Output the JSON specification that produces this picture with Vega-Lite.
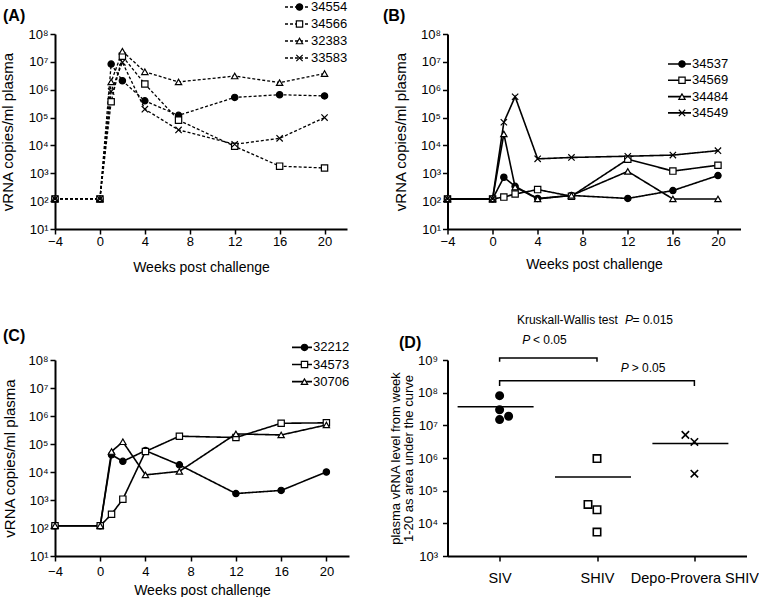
{
  "$schema": "https://vega.github.io/schema/vega-lite/v6.json",
  "padding": {"left": 0, "top": 0, "right": 0, "bottom": 0},
  "background": "white",
  "config": {
    "font": "Liberation Sans",
    "view": {"stroke": null},
    "axis": {"domainColor": "black", "domainWidth": 2, "tickColor": "black", "tickWidth": 1.5, "tickSize": 5, "labelColor": "black", "titleColor": "black", "labelFontSize": 13, "titleFontWeight": "normal", "grid": false, "labelFlush": false, "labelFont": "Liberation Sans", "titleFont": "Liberation Sans", "labelOverlap": false}
  },
  "resolve": {
    "scale": {"shape": "independent", "fill": "independent", "strokeDash": "independent", "xOffset": "independent"},
    "legend": {"shape": "independent", "fill": "independent", "strokeDash": "independent"}
  },
  "datasets": {
    "A": [
      {"id": "34554", "week": -4, "v": 120}, {"id": "34554", "week": 0, "v": 120}, {"id": "34554", "week": 1, "v": 8300000}, {"id": "34554", "week": 2, "v": 2100000}, {"id": "34554", "week": 4, "v": 400000}, {"id": "34554", "week": 7, "v": 120000}, {"id": "34554", "week": 12, "v": 530000}, {"id": "34554", "week": 16, "v": 660000}, {"id": "34554", "week": 20, "v": 600000},
      {"id": "34566", "week": -4, "v": 120}, {"id": "34566", "week": 0, "v": 120}, {"id": "34566", "week": 1, "v": 370000}, {"id": "34566", "week": 2, "v": 16000000}, {"id": "34566", "week": 4, "v": 1600000}, {"id": "34566", "week": 7, "v": 81000}, {"id": "34566", "week": 12, "v": 9300}, {"id": "34566", "week": 16, "v": 1800}, {"id": "34566", "week": 20, "v": 1550},
      {"id": "32383", "week": -4, "v": 120}, {"id": "32383", "week": 0, "v": 120}, {"id": "32383", "week": 1, "v": 1900000}, {"id": "32383", "week": 2, "v": 24000000}, {"id": "32383", "week": 4, "v": 4400000}, {"id": "32383", "week": 7, "v": 1900000}, {"id": "32383", "week": 12, "v": 3100000}, {"id": "32383", "week": 16, "v": 1800000}, {"id": "32383", "week": 20, "v": 3800000},
      {"id": "33583", "week": -4, "v": 120}, {"id": "33583", "week": 0, "v": 120}, {"id": "33583", "week": 1, "v": 870000}, {"id": "33583", "week": 2, "v": 9600000}, {"id": "33583", "week": 4, "v": 200000}, {"id": "33583", "week": 7, "v": 36000}, {"id": "33583", "week": 12, "v": 11000}, {"id": "33583", "week": 16, "v": 18000}, {"id": "33583", "week": 20, "v": 100000}
    ],
    "B": [
      {"id": "34537", "week": -4, "v": 120}, {"id": "34537", "week": 0, "v": 120}, {"id": "34537", "week": 1, "v": 720}, {"id": "34537", "week": 2, "v": 340}, {"id": "34537", "week": 4, "v": 125}, {"id": "34537", "week": 7, "v": 160}, {"id": "34537", "week": 12, "v": 125}, {"id": "34537", "week": 16, "v": 240}, {"id": "34537", "week": 20, "v": 830},
      {"id": "34569", "week": -4, "v": 120}, {"id": "34569", "week": 0, "v": 120}, {"id": "34569", "week": 1, "v": 140}, {"id": "34569", "week": 2, "v": 180}, {"id": "34569", "week": 4, "v": 260}, {"id": "34569", "week": 7, "v": 150}, {"id": "34569", "week": 12, "v": 3200}, {"id": "34569", "week": 16, "v": 1200}, {"id": "34569", "week": 20, "v": 1950},
      {"id": "34484", "week": -4, "v": 120}, {"id": "34484", "week": 0, "v": 120}, {"id": "34484", "week": 1, "v": 26000}, {"id": "34484", "week": 2, "v": 320}, {"id": "34484", "week": 4, "v": 120}, {"id": "34484", "week": 7, "v": 160}, {"id": "34484", "week": 12, "v": 1170}, {"id": "34484", "week": 16, "v": 120}, {"id": "34484", "week": 20, "v": 120},
      {"id": "34549", "week": -4, "v": 120}, {"id": "34549", "week": 0, "v": 120}, {"id": "34549", "week": 1, "v": 68000}, {"id": "34549", "week": 2, "v": 560000}, {"id": "34549", "week": 4, "v": 3300}, {"id": "34549", "week": 7, "v": 3700}, {"id": "34549", "week": 12, "v": 4100}, {"id": "34549", "week": 16, "v": 4500}, {"id": "34549", "week": 20, "v": 6500}
    ],
    "C": [
      {"id": "32212", "week": -4, "v": 120}, {"id": "32212", "week": 0, "v": 120}, {"id": "32212", "week": 1, "v": 41000}, {"id": "32212", "week": 2, "v": 24000}, {"id": "32212", "week": 4, "v": 58000}, {"id": "32212", "week": 7, "v": 18000}, {"id": "32212", "week": 12, "v": 1700}, {"id": "32212", "week": 16, "v": 2200}, {"id": "32212", "week": 20, "v": 10000},
      {"id": "34573", "week": -4, "v": 120}, {"id": "34573", "week": 0, "v": 120}, {"id": "34573", "week": 1, "v": 310}, {"id": "34573", "week": 2, "v": 1070}, {"id": "34573", "week": 4, "v": 54000}, {"id": "34573", "week": 7, "v": 190000}, {"id": "34573", "week": 12, "v": 170000}, {"id": "34573", "week": 16, "v": 550000}, {"id": "34573", "week": 20, "v": 570000},
      {"id": "30706", "week": -4, "v": 120}, {"id": "30706", "week": 0, "v": 120}, {"id": "30706", "week": 1, "v": 54000}, {"id": "30706", "week": 2, "v": 120000}, {"id": "30706", "week": 4, "v": 7900}, {"id": "30706", "week": 7, "v": 10500}, {"id": "30706", "week": 12, "v": 230000}, {"id": "30706", "week": 16, "v": 210000}, {"id": "30706", "week": 20, "v": 480000}
    ],
    "D": [
      {"group": "SIV", "jitter": 0, "v": 81000000}, {"group": "SIV", "jitter": 0, "v": 30000000}, {"group": "SIV", "jitter": 0, "v": 15000000}, {"group": "SIV", "jitter": 0.3, "v": 19000000},
      {"group": "SHIV", "jitter": 0, "v": 960000}, {"group": "SHIV", "jitter": -0.3, "v": 38000}, {"group": "SHIV", "jitter": 0, "v": 26000}, {"group": "SHIV", "jitter": 0, "v": 5400},
      {"group": "Depo-Provera SHIV", "jitter": -0.3, "v": 5100000}, {"group": "Depo-Provera SHIV", "jitter": 0, "v": 3100000}, {"group": "Depo-Provera SHIV", "jitter": 0, "v": 330000}
    ],
    "Dmed": [
      {"group": "SIV", "v": 37000000}, {"group": "SHIV", "v": 260000}, {"group": "Depo-Provera SHIV", "v": 2800000}
    ],
    "Dbr": [
      {"pair": "SIV vs SHIV", "k": 1, "group": "SIV", "v": 890000000},
      {"pair": "SIV vs SHIV", "k": 2, "group": "SIV", "v": 1150000000},
      {"pair": "SIV vs SHIV", "k": 3, "group": "SHIV", "v": 1150000000},
      {"pair": "SIV vs SHIV", "k": 4, "group": "SHIV", "v": 890000000},
      {"pair": "SIV vs Depo-Provera SHIV", "k": 1, "group": "SIV", "v": 160000000},
      {"pair": "SIV vs Depo-Provera SHIV", "k": 2, "group": "SIV", "v": 230000000},
      {"pair": "SIV vs Depo-Provera SHIV", "k": 3, "group": "Depo-Provera SHIV", "v": 230000000},
      {"pair": "SIV vs Depo-Provera SHIV", "k": 4, "group": "Depo-Provera SHIV", "v": 160000000}
    ]
  },
  "columns": 2,
  "spacing": {"row": 131, "column": 98.5},
  "bounds": "flush",
  "concat": [
    {
      "width": 292, "height": 195,
      "data": {"name": "A"},
      "encoding": {
        "x": {"field": "week", "type": "quantitative", "scale": {"domain": [-4, 22], "nice": false, "zero": false}, "axis": {"values": [-4, 0, 4, 8, 12, 16, 20], "title": "Weeks post challenge", "titleFontSize": 14, "labelPadding": 1, "titlePadding": 12}},
        "y": {"field": "v", "type": "quantitative", "scale": {"type": "log", "domain": [10, 100000000], "nice": false}, "axis": {"values": [10, 100, 1000, 10000, 100000, 1000000, 10000000, 100000000], "labelExpr": "'10' + ['⁰','¹','²','³','⁴','⁵','⁶','⁷','⁸','⁹'][round(log(datum.value)/LN10)]", "title": "vRNA copies/ml plasma", "titleFontSize": 15, "labelPadding": 2, "titlePadding": 12}}
      },
      "layer": [
        {"mark": {"type": "line", "color": "black", "strokeWidth": 1.3},
         "encoding": {"strokeDash": {"field": "id", "type": "nominal", "sort": ["34554", "34566", "32383", "33583"], "scale": {"range": [[3, 2], [3, 2], [3, 2], [3, 2]]},
           "legend": {"orient": "none", "legendX": 229, "legendY": -33.5, "direction": "vertical", "title": null, "symbolType": "stroke", "symbolSize": 576, "symbolStrokeWidth": 1.3, "symbolStrokeColor": "black", "labelFontSize": 13, "labelColor": "black", "labelOffset": 1, "rowPadding": 3, "clipHeight": 13, "padding": 0}}}},
        {"mark": {"type": "point", "filled": true, "stroke": "black", "strokeWidth": 1.2, "size": 40, "opacity": 1},
         "encoding": {
           "shape": {"field": "id", "type": "nominal", "scale": {"domain": ["34554", "34566", "32383", "33583"], "range": ["circle", "square", "triangle-up", "M-1,-1L1,1M-1,1L1,-1"]},
             "legend": {"orient": "none", "legendX": 238, "legendY": -33.5, "direction": "vertical", "title": null, "symbolSize": 40, "symbolStrokeWidth": 1.2, "symbolStrokeColor": "black", "symbolOpacity": 1, "labelExpr": "''", "labelFontSize": 13, "labelOffset": 1, "rowPadding": 3, "clipHeight": 13, "padding": 0, "encode": {"symbols": {"update": {"stroke": {"value": "black"}, "strokeWidth": {"value": 1.2}}}}}},
           "fill": {"field": "id", "type": "nominal", "scale": {"domain": ["34554", "34566", "32383", "33583"], "range": ["black", "white", "white", "black"]},
             "legend": {"orient": "none", "legendX": 238, "legendY": -33.5, "direction": "vertical", "title": null, "symbolSize": 40, "symbolStrokeWidth": 1.2, "symbolStrokeColor": "black", "symbolOpacity": 1, "labelExpr": "''", "labelFontSize": 13, "labelOffset": 1, "rowPadding": 3, "clipHeight": 13, "padding": 0, "encode": {"symbols": {"update": {"stroke": {"value": "black"}, "strokeWidth": {"value": 1.2}}}}}}
         }},
        {"transform": [{"filter": "datum.id == '34554' && datum.week == -4"}],
         "mark": {"type": "text", "text": "(A)", "fontSize": 16, "fontWeight": "bold", "align": "left", "baseline": "middle", "dx": -52, "dy": -182.9, "color": "black"}}
      ]
    },
    {
      "width": 293, "height": 195,
      "data": {"name": "B"},
      "encoding": {
        "x": {"field": "week", "type": "quantitative", "scale": {"domain": [-4, 22], "nice": false, "zero": false}, "axis": {"values": [-4, 0, 4, 8, 12, 16, 20], "title": "Weeks post challenge", "titleFontSize": 14, "labelPadding": 1, "titlePadding": 9}},
        "y": {"field": "v", "type": "quantitative", "scale": {"type": "log", "domain": [10, 100000000], "nice": false}, "axis": {"values": [10, 100, 1000, 10000, 100000, 1000000, 10000000, 100000000], "labelExpr": "'10' + ['⁰','¹','²','³','⁴','⁵','⁶','⁷','⁸','⁹'][round(log(datum.value)/LN10)]", "title": "vRNA copies/ml plasma", "titleFontSize": 15, "labelPadding": 2, "titlePadding": 12}}
      },
      "layer": [
        {"mark": {"type": "line", "color": "black", "strokeWidth": 1.6},
         "encoding": {"strokeDash": {"field": "id", "type": "nominal", "sort": ["34537", "34569", "34484", "34549"], "scale": {"range": [[1, 0], [1, 0], [1, 0], [1, 0]]},
           "legend": {"orient": "none", "legendX": 219.5, "legendY": 23.5, "direction": "vertical", "title": null, "symbolType": "stroke", "symbolSize": 529, "symbolStrokeWidth": 1.6, "symbolStrokeColor": "black", "labelFontSize": 13, "labelColor": "black", "labelOffset": 0, "rowPadding": 2.3, "clipHeight": 13, "padding": 0}}}},
        {"mark": {"type": "point", "filled": true, "stroke": "black", "strokeWidth": 1.2, "size": 40, "opacity": 1},
         "encoding": {
           "shape": {"field": "id", "type": "nominal", "scale": {"domain": ["34537", "34569", "34484", "34549"], "range": ["circle", "square", "triangle-up", "M-1,-1L1,1M-1,1L1,-1"]},
             "legend": {"orient": "none", "legendX": 228, "legendY": 23.5, "direction": "vertical", "title": null, "symbolSize": 40, "symbolStrokeWidth": 1.2, "symbolStrokeColor": "black", "symbolOpacity": 1, "labelExpr": "''", "labelFontSize": 13, "labelOffset": 0, "rowPadding": 2.3, "clipHeight": 13, "padding": 0, "encode": {"symbols": {"update": {"stroke": {"value": "black"}, "strokeWidth": {"value": 1.2}}}}}},
           "fill": {"field": "id", "type": "nominal", "scale": {"domain": ["34537", "34569", "34484", "34549"], "range": ["black", "white", "white", "black"]},
             "legend": {"orient": "none", "legendX": 228, "legendY": 23.5, "direction": "vertical", "title": null, "symbolSize": 40, "symbolStrokeWidth": 1.2, "symbolStrokeColor": "black", "symbolOpacity": 1, "labelExpr": "''", "labelFontSize": 13, "labelOffset": 0, "rowPadding": 2.3, "clipHeight": 13, "padding": 0, "encode": {"symbols": {"update": {"stroke": {"value": "black"}, "strokeWidth": {"value": 1.2}}}}}}
         }},
        {"transform": [{"filter": "datum.id == '34537' && datum.week == -4"}],
         "mark": {"type": "text", "text": "(B)", "fontSize": 16, "fontWeight": "bold", "align": "left", "baseline": "middle", "dx": -64.5, "dy": -182.9, "color": "black"}}
      ]
    },
    {
      "width": 294, "height": 196,
      "data": {"name": "C"},
      "encoding": {
        "x": {"field": "week", "type": "quantitative", "scale": {"domain": [-4, 22], "nice": false, "zero": false}, "axis": {"values": [-4, 0, 4, 8, 12, 16, 20], "title": "Weeks post challenge", "titleFontSize": 14, "labelPadding": 4, "titlePadding": 5}},
        "y": {"field": "v", "type": "quantitative", "scale": {"type": "log", "domain": [10, 100000000], "nice": false}, "axis": {"values": [10, 100, 1000, 10000, 100000, 1000000, 10000000, 100000000], "labelExpr": "'10' + ['⁰','¹','²','³','⁴','⁵','⁶','⁷','⁸','⁹'][round(log(datum.value)/LN10)]", "title": "vRNA copies/ml plasma", "titleFontSize": 15, "labelPadding": 2, "titlePadding": 10}}
      },
      "layer": [
        {"mark": {"type": "line", "color": "black", "strokeWidth": 1.6},
         "encoding": {"strokeDash": {"field": "id", "type": "nominal", "sort": ["32212", "34573", "30706"], "scale": {"range": [[1, 0], [1, 0], [1, 0]]},
           "legend": {"orient": "none", "legendX": 236, "legendY": -19.1, "direction": "vertical", "title": null, "symbolType": "stroke", "symbolSize": 400, "symbolStrokeWidth": 1.6, "symbolStrokeColor": "black", "labelFontSize": 13, "labelColor": "black", "labelOffset": 0, "rowPadding": 3.1, "clipHeight": 13, "padding": 0}}}},
        {"mark": {"type": "point", "filled": true, "stroke": "black", "strokeWidth": 1.2, "size": 40, "opacity": 1},
         "encoding": {
           "shape": {"field": "id", "type": "nominal", "scale": {"domain": ["32212", "34573", "30706"], "range": ["circle", "square", "triangle-up"]},
             "legend": {"orient": "none", "legendX": 243, "legendY": -19.1, "direction": "vertical", "title": null, "symbolSize": 40, "symbolStrokeWidth": 1.2, "symbolStrokeColor": "black", "symbolOpacity": 1, "labelExpr": "''", "labelFontSize": 13, "labelOffset": 0, "rowPadding": 3.1, "clipHeight": 13, "padding": 0, "encode": {"symbols": {"update": {"stroke": {"value": "black"}, "strokeWidth": {"value": 1.2}}}}}},
           "fill": {"field": "id", "type": "nominal", "scale": {"domain": ["32212", "34573", "30706"], "range": ["black", "white", "white"]},
             "legend": {"orient": "none", "legendX": 243, "legendY": -19.1, "direction": "vertical", "title": null, "symbolSize": 40, "symbolStrokeWidth": 1.2, "symbolStrokeColor": "black", "symbolOpacity": 1, "labelExpr": "''", "labelFontSize": 13, "labelOffset": 0, "rowPadding": 3.1, "clipHeight": 13, "padding": 0, "encode": {"symbols": {"update": {"stroke": {"value": "black"}, "strokeWidth": {"value": 1.2}}}}}}
         }},
        {"transform": [{"filter": "datum.id == '32212' && datum.week == -4"}],
         "mark": {"type": "text", "text": "(C)", "fontSize": 16, "fontWeight": "bold", "align": "left", "baseline": "middle", "dx": -52, "dy": -189.8, "color": "black"}}
      ]
    },
    {
      "width": 299, "height": 196,
      "encoding": {
        "x": {"field": "group", "type": "nominal", "scale": {"type": "point", "domain": ["SIV", "SHIV", "Depo-Provera SHIV"], "padding": 0.535}, "axis": {"title": null, "labelAngle": 0, "labelPadding": 10, "labelFontSize": 14.5}},
        "y": {"field": "v", "type": "quantitative", "scale": {"type": "log", "domain": [1000, 1000000000], "nice": false}, "axis": {"values": [1000, 10000, 100000, 1000000, 10000000, 100000000, 1000000000], "labelExpr": "'10' + ['⁰','¹','²','³','⁴','⁵','⁶','⁷','⁸','⁹'][round(log(datum.value)/LN10)]", "title": ["plasma vRNA level from week", "1-20 as area under the curve"], "titleFontSize": 13, "titleLineHeight": 13, "labelPadding": 5, "titlePadding": 2}}
      },
      "layer": [
        {"data": {"name": "D"},
         "mark": {"type": "point", "filled": true, "stroke": "black", "strokeWidth": 1.6, "size": 55, "opacity": 1},
         "encoding": {
           "xOffset": {"field": "jitter", "type": "quantitative", "scale": {"domain": [-1, 1], "range": [-30, 30]}},
           "shape": {"field": "group", "type": "nominal", "scale": {"domain": ["SIV", "SHIV", "Depo-Provera SHIV"], "range": ["circle", "square", "M-1,-1L1,1M-1,1L1,-1"]}, "legend": null},
           "fill": {"field": "group", "type": "nominal", "scale": {"domain": ["SIV", "SHIV", "Depo-Provera SHIV"], "range": ["black", "white", "black"]}, "legend": null}
         }},
        {"data": {"name": "Dmed"},
         "mark": {"type": "tick", "color": "black", "thickness": 1.5, "size": 76, "orient": "horizontal", "opacity": 1, "xOffset": -4}},
        {"data": {"name": "Dbr"},
         "mark": {"type": "line", "color": "black", "strokeWidth": 1.5},
         "encoding": {"detail": {"field": "pair", "type": "nominal"}, "order": {"field": "k", "type": "quantitative"}}},
        {"data": {"name": "Dbr"}, "transform": [{"filter": "datum.pair == 'SIV vs SHIV' && datum.k == 2"}],
         "mark": {"type": "text", "text": "Kruskall-Wallis test", "fontSize": 12, "align": "left", "baseline": "middle", "dx": 17.3, "dy": -38.3, "color": "black"}},
        {"data": {"name": "Dbr"}, "transform": [{"filter": "datum.pair == 'SIV vs SHIV' && datum.k == 2"}],
         "mark": {"type": "text", "text": "P", "fontSize": 12, "fontStyle": "italic", "align": "left", "baseline": "middle", "dx": 125.5, "dy": -38.3, "color": "black"}},
        {"data": {"name": "Dbr"}, "transform": [{"filter": "datum.pair == 'SIV vs SHIV' && datum.k == 2"}],
         "mark": {"type": "text", "text": "= 0.015", "fontSize": 12, "align": "left", "baseline": "middle", "dx": 133, "dy": -38.3, "color": "black"}},
        {"data": {"name": "Dbr"}, "transform": [{"filter": "datum.pair == 'SIV vs SHIV' && datum.k == 2"}],
         "mark": {"type": "text", "text": "P", "fontSize": 12, "fontStyle": "italic", "align": "left", "baseline": "middle", "dx": 22.6, "dy": -18.3, "color": "black"}},
        {"data": {"name": "Dbr"}, "transform": [{"filter": "datum.pair == 'SIV vs SHIV' && datum.k == 2"}],
         "mark": {"type": "text", "text": "< 0.05", "fontSize": 12, "align": "left", "baseline": "middle", "dx": 33.3, "dy": -18.3, "color": "black"}},
        {"data": {"name": "Dbr"}, "transform": [{"filter": "datum.pair == 'SIV vs Depo-Provera SHIV' && datum.k == 2"}],
         "mark": {"type": "text", "text": "P", "fontSize": 12, "fontStyle": "italic", "align": "left", "baseline": "middle", "dx": 121.1, "dy": -13, "color": "black"}},
        {"data": {"name": "Dbr"}, "transform": [{"filter": "datum.pair == 'SIV vs Depo-Provera SHIV' && datum.k == 2"}],
         "mark": {"type": "text", "text": "> 0.05", "fontSize": 12, "align": "left", "baseline": "middle", "dx": 132.1, "dy": -13, "color": "black"}},
        {"data": {"name": "Dbr"}, "transform": [{"filter": "datum.pair == 'SIV vs SHIV' && datum.k == 2"}],
         "mark": {"type": "text", "text": "(D)", "fontSize": 16, "fontWeight": "bold", "align": "left", "baseline": "middle", "dx": -100.6, "dy": -15.3, "color": "black"}}
      ]
    }
  ]
}
